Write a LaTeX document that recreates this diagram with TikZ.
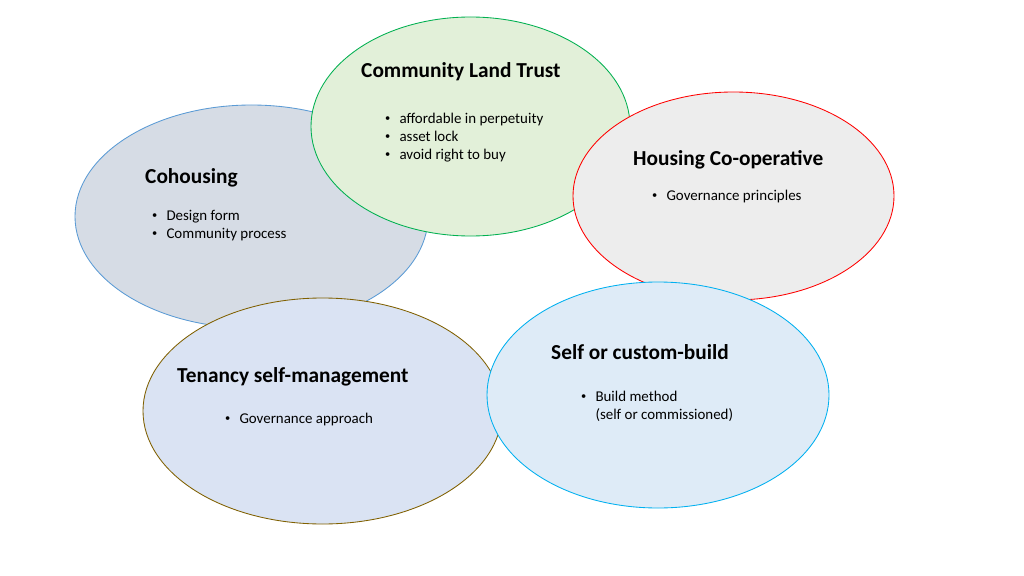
\documentclass[tikz,border=0pt]{standalone}
\usepackage{fontspec}
\setmainfont{Carlito}
\usetikzlibrary{shapes.geometric,positioning}
\definecolor{cltfill}{HTML}{E2F0D9}
\definecolor{cltline}{HTML}{00B050}
\definecolor{cohofill}{HTML}{D6DCE5}
\definecolor{coholine}{HTML}{5B9BD5}
\definecolor{coopfill}{HTML}{EDEDED}
\definecolor{coopline}{HTML}{FF0000}
\definecolor{tenfill}{HTML}{DAE3F3}
\definecolor{tenline}{HTML}{806000}
\definecolor{selffill}{HTML}{DEEBF7}
\definecolor{selfline}{HTML}{00B0F0}
\newcommand{\bul}{\makebox[13.4pt][l]{\raisebox{0.12em}{\scalebox{0.7}{•}}}}

\begin{document}
\begin{tikzpicture}[x=0.9375pt,y=-0.9375pt,
  oval/.style n args={4}{ellipse,draw=#1,fill=#2,line width=0.8pt,
    inner sep=0pt,minimum width=#3*0.9375pt,minimum height=#4*0.9375pt},
  title/.style={anchor=west,inner sep=0pt,font=\fontsize{20}{23}\selectfont\bfseries},
  items/.style={anchor=north west,inner sep=0pt,align=left,font=\fontsize{14}{16.9}\selectfont}]
  \fill[white](0,0)rectangle(1024,576);
  \useasboundingbox(0,0)rectangle(1024,576);
  % the five models, back to front
  \node[oval={coholine}{cohofill}{353}{223}] (coho) at (251.5,216.5){};
  \node[oval={cltline}{cltfill}{319}{219}] (clt) at (470.5,126.5){};
  \node[oval={coopline}{coopfill}{321}{208}] (coop) at (733.5,196){};
  \node[oval={tenline}{tenfill}{359}{226}] (ten) at (322.5,411){};
  \node[oval={selfline}{selffill}{342}{226}] (self) at (658,395){};
  % titles
  \node[title] (cltT) at (361,72){Community Land Trust};
  \node[title] (cohoT) at (145,178){Cohousing};
  \node[title] (coopT) at (633,160){Housing Co-operative};
  \node[title] (tenT) at (177,377){Tenancy self-management};
  \node[title] (selfT) at (551,352){Self or custom-build};
  % bullet points
  \node[items] (cltL) at (385,113){\bul affordable in perpetuity\\ \bul asset lock\\ \bul avoid right to buy};
  \node[items] (cohoL) at (152,210){\bul Design form\\ \bul Community process};
  \node[items] (coopL) at (652,190){\bul Governance principles};
  \node[items] (tenL) at (225,413){\bul Governance approach};
  \node[items] (selfL) at (581,391){\bul Build method\\ \hspace*{13.4pt}(self or commissioned)};
\end{tikzpicture}
\end{document}
